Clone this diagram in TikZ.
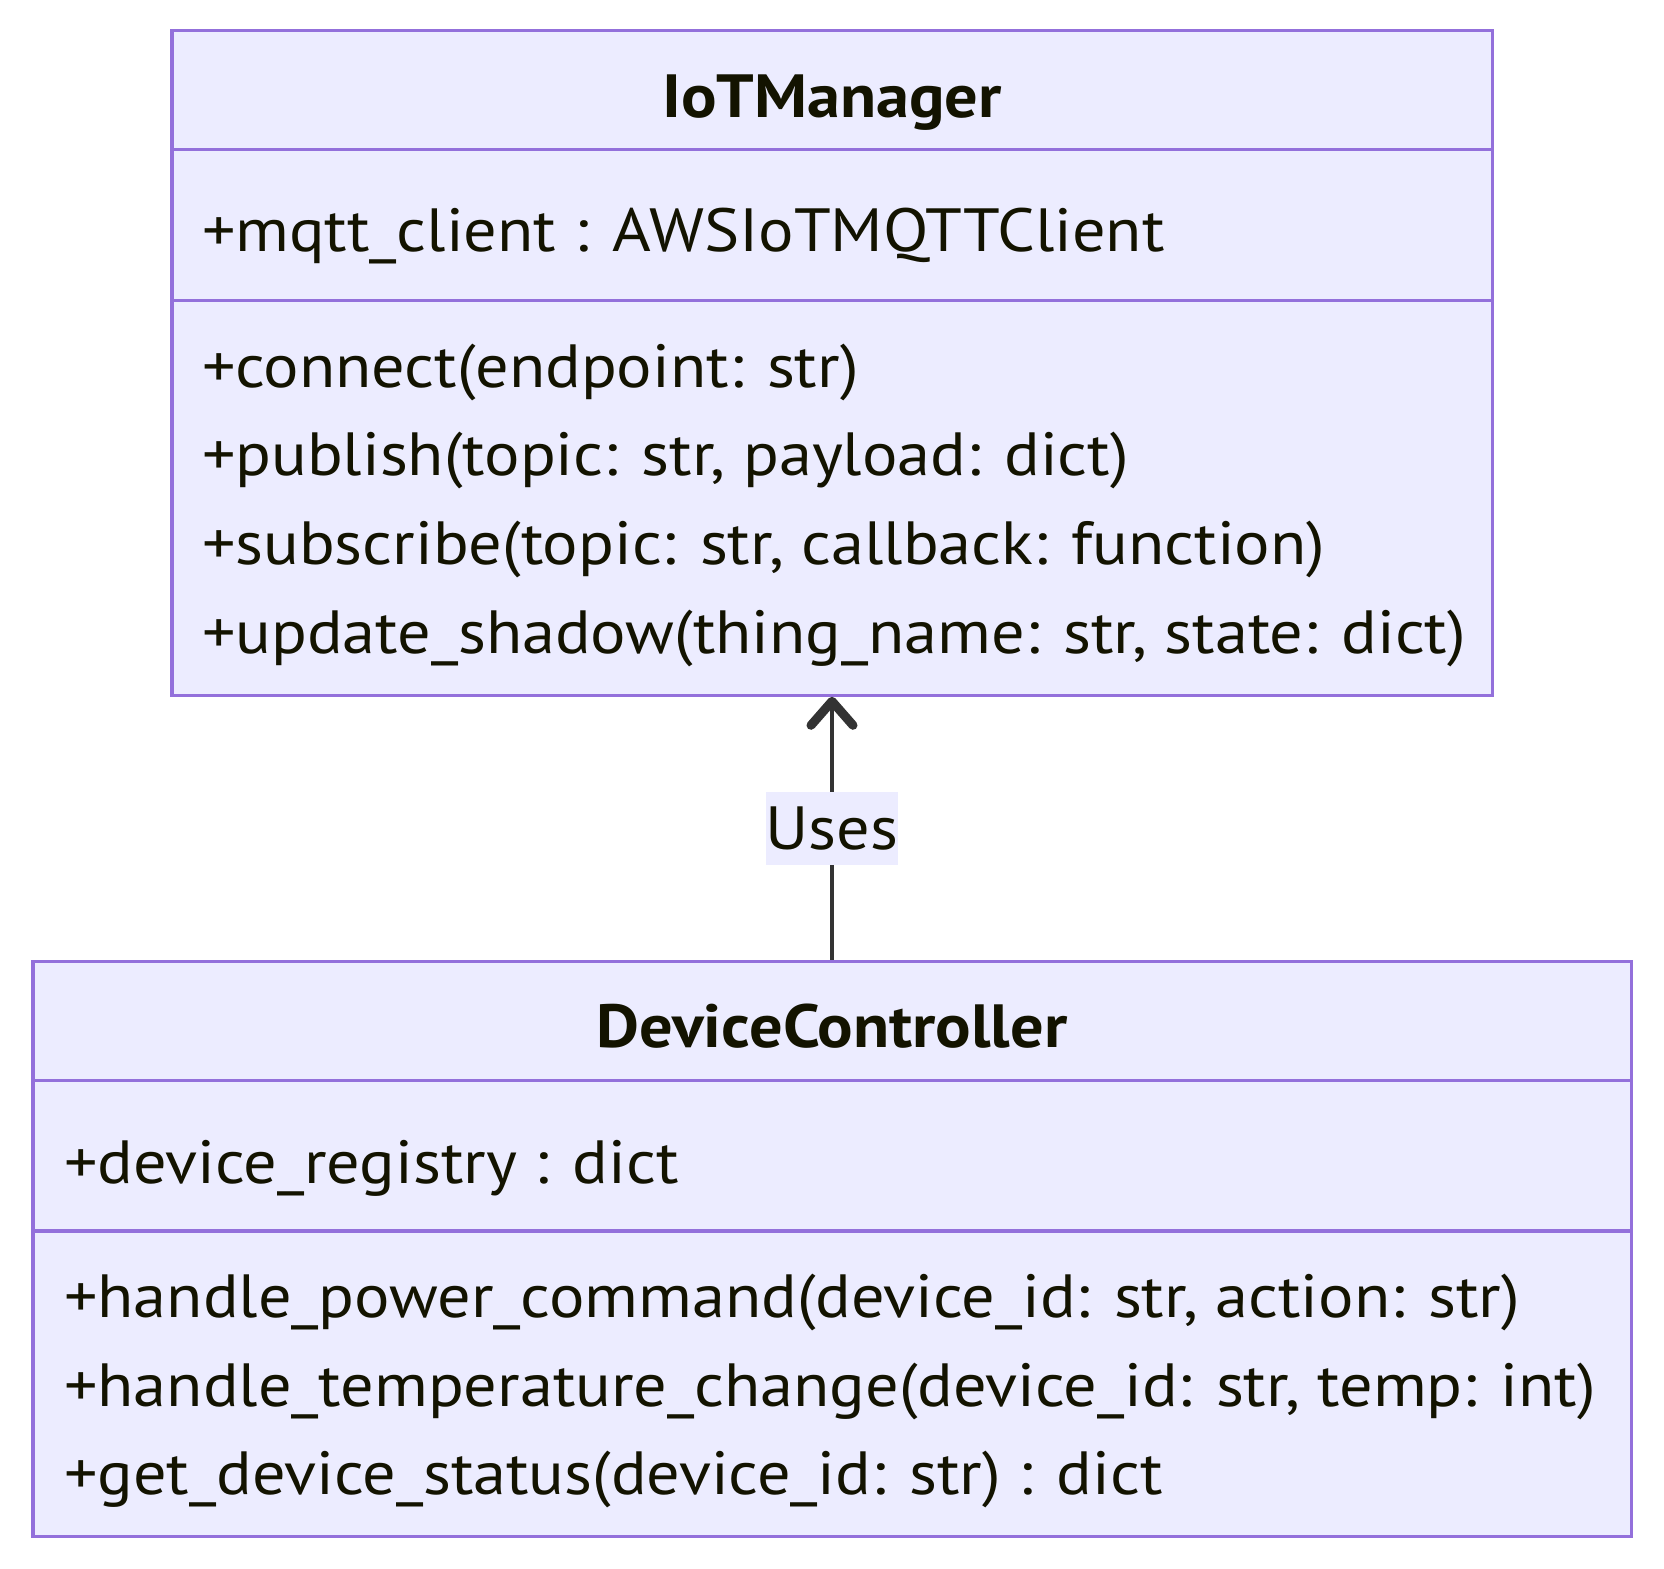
\documentclass[tikz,border=0pt]{standalone}
\usepackage{fontspec}
\setmainfont{PT Sans}[FakeStretch=1.087]
\usetikzlibrary{arrows.meta}
\definecolor{boxfill}{HTML}{ECECFF}
\definecolor{boxline}{HTML}{9370DB}
\definecolor{edgecol}{HTML}{333333}
\definecolor{textcol}{HTML}{131300}
\newcommand\diagfont{\fontsize{30.5}{36}\selectfont}
\tikzset{
  classbox/.style={draw=boxline,fill=boxfill,line width=1.6pt,inner sep=0pt},
  divider/.style={boxline,line width=1.6pt},
  member/.style={anchor=base west,inner sep=0pt,text=textcol},
  title/.style={anchor=base,inner sep=0pt,text=textcol,font=\diagfont\bfseries},
  edgelabel/.style={fill=boxfill,inner sep=0pt,minimum width=61.5pt,minimum height=36.6pt,text=textcol}
}
\begin{document}
\begin{tikzpicture}[x=0.5pt,y=-0.5pt,font=\diagfont]
  \useasboundingbox (0,0) rectangle (1664,1568);
  % IoTManager
  \node[classbox,minimum width=660.1pt,minimum height=332.2pt] (iot) at (832,363) {};
  \draw[divider] (171.9,149.6) -- (1492.1,149.6);
  \draw[divider] (171.9,300.3) -- (1492.1,300.3);
  \node[title] (iottitle) at (832,117.3) {IoTManager};
  \node[member] (iota) at (201.6,251.7) {+mqtt\_client : AWSIoTMQTTClient};
  \node[member] (iotm1) at (201.6,387) {+connect(endpoint: str)};
  \node[member] (iotm2) at (201.6,475.7) {+publish(topic: str, payload: dict)};
  \node[member] (iotm3) at (201.6,564.4) {+subscribe(topic: str, callback: function)};
  \node[member] (iotm4) at (201.6,653.1) {+update\_shadow(thing\_name: str, state: dict)};
  % DeviceController
  \node[classbox,minimum width=799.1pt,minimum height=287.6pt] (dc) at (832,1249) {};
  \draw[divider] (32.9,1080.3) -- (1631.1,1080.3);
  \draw[divider] (32.9,1231) -- (1631.1,1231);
  \node[title] (dctitle) at (832,1047) {DeviceController};
  \node[member] (dca) at (63.7,1183) {+device\_registry : dict};
  \node[member] (dcm1) at (63.7,1317.3) {+handle\_power\_command(device\_id: str, action: str)};
  \node[member] (dcm2) at (63.7,1406) {+handle\_temperature\_change(device\_id: str, temp: int)};
  \node[member] (dcm3) at (63.7,1494.7) {+get\_device\_status(device\_id: str) : dict};
  % relation
  \draw[edgecol,line width=1.6pt,-{Straight Barb[length=12pt,width=21pt,line width=4.5pt,round]}]
    (dc.north) -- node[edgelabel] (uses) {Uses} (iot.south);
\end{tikzpicture}
\end{document}
